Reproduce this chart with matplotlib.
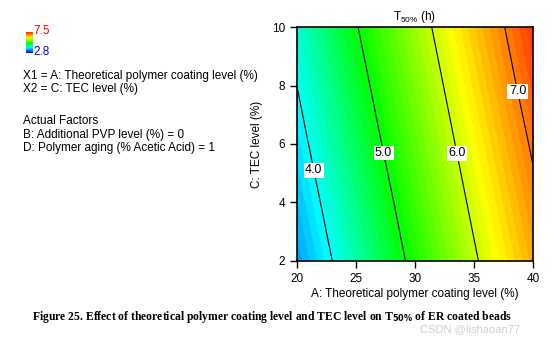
import numpy as np
import matplotlib
matplotlib.use('Agg')
import matplotlib.pyplot as plt
from matplotlib.colors import LinearSegmentedColormap

plt.rcParams['font.family'] = ['Liberation Sans', 'DejaVu Sans']
plt.rcParams['mathtext.default'] = 'regular'

# response surface: T50% (h) over coating level (A) and TEC level (C)
coating = [20, 25, 30, 35, 40]
tec = [2, 4, 6, 8, 10]
t50 = [
    [3.52, 4.32, 5.13, 5.94, 6.74],
    [3.68, 4.48, 5.29, 6.10, 6.90],
    [3.84, 4.65, 5.45, 6.26, 7.06],
    [4.00, 4.81, 5.61, 6.42, 7.23],
    [4.16, 4.97, 5.77, 6.58, 7.39],
]
contour_levels = [4.0, 5.0, 6.0, 7.0]
t_min, t_max = 2.8, 7.5

cmap = LinearSegmentedColormap.from_list(
    'de', [(0.0, '#0000ff'), (0.25, '#00ffff'), (0.47, '#00ff00'),
           (0.74, '#ffff00'), (1.0, '#ff2800')])

fig = plt.figure(figsize=(5.6, 3.38), dpi=100)
ax = fig.add_axes([0.530, 0.228, 0.422, 0.692])

A, C = np.meshgrid(coating, tec)
Z = np.array(t50)
ax.contourf(A, C, Z, levels=np.arange(t_min, t_max + 0.05, 0.1),
            cmap=cmap, vmin=t_min, vmax=t_max)
cs = ax.contour(A, C, Z, levels=contour_levels, colors='black', linewidths=0.8)
labels = ax.clabel(cs, fmt='%.1f', fontsize=9, inline=False,
                   manual=[(21.4, 5.1), (27.4, 5.7), (33.8, 5.7), (38.6, 7.8)])
for t in labels:
    t.set_rotation(0)
    t.set_bbox(dict(facecolor='white', edgecolor='none', pad=1))

ax.set_xlim(20, 40)
ax.set_ylim(2, 10)
ax.set_xticks([20, 25, 30, 35, 40])
ax.set_yticks([2, 4, 6, 8, 10])
ax.tick_params(direction='out', length=5, width=1, labelsize=8.5, colors='black')
for s in ax.spines.values():
    s.set_linewidth(1.2)
ax.set_xlabel('A: Theoretical polymer coating level (%)', fontsize=8.5, labelpad=2)
ax.set_ylabel('C: TEC level (%)', fontsize=8.5, labelpad=6)
ax.set_title('T$_{50\\%}$ (h)', fontsize=8.5, pad=5)

# small colour key on the left
cax = fig.add_axes([26 / 560, 1 - 53 / 338, 7 / 560, 21 / 338])
grad = np.linspace(t_max, t_min, 64).reshape(-1, 1)
cax.imshow(grad, aspect='auto', cmap=cmap, vmin=t_min, vmax=t_max)
cax.axis('off')
fig.text(33 / 560, 1 - 31 / 338, '7.5', color='red', fontsize=8.5, va='center')
fig.text(33 / 560, 1 - 52 / 338, '2.8', color='blue', fontsize=8.5, va='center')

info = [
    (76, 'X1 = A: Theoretical polymer coating level (%)'),
    (89, 'X2 = C: TEC level (%)'),
    (121, 'Actual Factors'),
    (135, 'B: Additional PVP level (%) = 0'),
    (148, 'D: Polymer aging (% Acetic Acid) = 1'),
]
for y, s in info:
    fig.text(23 / 560, 1 - y / 338, s, fontsize=8.5, va='center')

fig.text(32 / 560, 1 - 317 / 338,
         'Figure 25. Effect of theoretical polymer coating level and TEC level on '
         'T$_{\\mathbf{50\\%}}$ of ER coated beads',
         family='Liberation Serif', weight='bold', fontsize=8.4, va='center')
fig.text(520 / 560, 1 - 329 / 338, 'CSDN @lishaoan77', color='#d0d0d0',
         fontsize=8, va='center', ha='right')

fig.savefig('out.png', dpi=100)
